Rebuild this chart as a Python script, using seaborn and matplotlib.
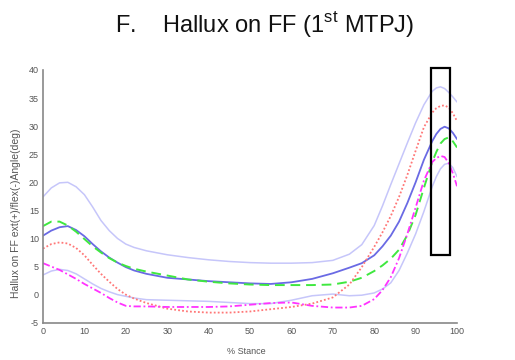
import numpy as np
import matplotlib
matplotlib.use("Agg")
import matplotlib.pyplot as plt
from matplotlib.patches import Rectangle
import seaborn as sns

# % stance sample points
stance = [0, 2, 4, 6, 8, 10, 12, 14, 16, 18, 20, 22, 25, 30, 35, 40, 45, 50, 55, 60,
          65, 70, 74, 77, 80, 82, 84, 86, 88, 90, 92, 94, 95, 96, 97, 98, 99, 100]

# mean + SD (upper light band)
upper_sd = [17.4, 19.0, 19.9, 20.0, 19.2, 17.8, 15.6, 13.2, 11.4, 10.0, 9.0, 8.4, 7.8, 7.1, 6.6, 6.2, 5.9, 5.7, 5.6, 5.6,
            5.7, 6.1, 7.2, 8.9, 12.3, 15.8, 19.6, 23.3, 27.0, 30.6, 33.8, 36.2, 36.8, 37.0, 36.7, 36.0, 35.2, 34.3]
# mean (solid blue)
mean_blue = [10.5, 11.4, 12.0, 12.2, 11.5, 10.4, 9.0, 7.7, 6.6, 5.7, 4.9, 4.3, 3.7, 3.0, 2.7, 2.4, 2.2, 2.0, 1.9, 2.2,
             2.8, 3.8, 4.8, 5.6, 7.0, 8.6, 10.5, 13.0, 16.3, 20.0, 24.0, 27.3, 28.6, 29.5, 29.9, 29.6, 28.8, 27.7]
# mean - SD (lower light band)
lower_sd = [3.5, 4.2, 4.5, 4.3, 3.7, 2.8, 1.9, 1.1, 0.5, 0.0, -0.3, -0.6, -0.9, -1.0, -1.1, -1.2, -1.4, -1.6, -1.6, -1.0,
            -0.2, 0.1, -0.2, -0.1, 0.3, 1.0, 2.1, 4.3, 7.4, 10.8, 14.8, 19.2, 21.0, 22.4, 23.2, 23.4, 22.6, 21.0]
# green dashed
green_dash = [12.2, 13.0, 13.0, 12.3, 11.2, 9.9, 8.6, 7.5, 6.5, 5.7, 5.1, 4.6, 4.1, 3.4, 2.7, 2.3, 2.0, 1.8, 1.7, 1.7,
              1.7, 1.8, 2.3, 3.0, 4.2, 5.2, 6.4, 8.0, 10.6, 14.2, 19.0, 23.6, 25.4, 26.9, 27.7, 28.0, 27.3, 26.2]
# red dotted
red_dot = [8.2, 9.0, 9.3, 9.1, 8.3, 7.0, 5.3, 3.7, 2.3, 1.0, 0.0, -0.7, -1.5, -2.5, -3.0, -3.2, -3.2, -3.0, -2.6, -2.2,
           -1.6, -0.5, 1.8, 4.9, 8.5, 11.1, 14.0, 17.4, 21.3, 25.6, 29.8, 32.4, 33.2, 33.6, 33.7, 33.3, 32.3, 30.9]
# magenta dash-dot
magenta_dd = [5.6, 5.0, 4.4, 3.6, 2.8, 1.9, 1.1, 0.3, -0.6, -1.4, -2.0, -2.1, -2.1, -2.2, -2.2, -2.2, -2.1, -1.8, -1.5, -1.4,
              -2.0, -2.3, -2.3, -2.0, -0.8, 0.8, 3.1, 6.5, 10.8, 15.5, 20.3, 23.6, 24.3, 24.7, 24.5, 23.4, 21.6, 19.3]

x_ticks = [0, 10, 20, 30, 40, 50, 60, 70, 80, 90, 100]
y_ticks = [-5, 0, 5, 10, 15, 20, 25, 30, 35, 40]

sns.set_style("white")
plt.rcParams['font.family'] = ['Liberation Sans', 'DejaVu Sans']
plt.rcParams['mathtext.fontset'] = 'custom'
plt.rcParams['mathtext.rm'] = 'Liberation Sans'
plt.rcParams['axes.unicode_minus'] = False

fig = plt.figure(figsize=(5.15, 3.6), dpi=100)
ax = fig.add_axes([0.0835, 0.1036, 0.8039, 0.702])

x = np.array(stance)
sns.lineplot(x=x, y=upper_sd, ax=ax, color='#c6c6fa', lw=1.1)
sns.lineplot(x=x, y=lower_sd, ax=ax, color='#c6c6fa', lw=1.1)
sns.lineplot(x=x, y=mean_blue, ax=ax, color='#6a6ae4', lw=1.3)
sns.lineplot(x=x, y=green_dash, ax=ax, color='#3fe83f', lw=1.4, linestyle=(0, (5, 3)))
sns.lineplot(x=x, y=red_dot, ax=ax, color='#ff7777', lw=1.3, linestyle=(0, (1, 1.2)))
sns.lineplot(x=x, y=magenta_dd, ax=ax, color='#ff33ff', lw=1.3, linestyle=(0, (4, 1.5, 1, 1.5)))

# highlight box around push-off peak
ax.add_patch(Rectangle((93.7, 7.0), 4.6, 33.3, fill=False, edgecolor='black', lw=1.6, clip_on=False, zorder=5))

ax.set_xlim(0, 100)
ax.set_ylim(-5, 40)
ax.set_xticks(x_ticks)
ax.set_yticks(y_ticks)
ax.tick_params(direction='in', length=3, width=0.8, colors='#666666', labelsize=6.5, labelcolor='#555555', pad=3)
for s in ['top', 'right']:
    ax.spines[s].set_visible(False)
for s in ['left', 'bottom']:
    ax.spines[s].set_color('#888888')
    ax.spines[s].set_linewidth(1.2)

ax.set_xlabel('% Stance', fontsize=6.5, color='#555555')
ax.set_ylabel('Hallux on FF ext(+)/flex(-)Angle(deg)', fontsize=7.5, color='#555555')
ax.xaxis.set_label_coords(0.49, -0.095)
ax.yaxis.set_label_coords(-0.053, 0.434)

fig.text(115 / 515, 1 - 32 / 360, 'F.    Hallux on FF (1$^{\\rm st}$ MTPJ)', fontsize=17, ha='left', va='baseline',
         color='#111111')

fig.savefig('out.png', dpi=100)
